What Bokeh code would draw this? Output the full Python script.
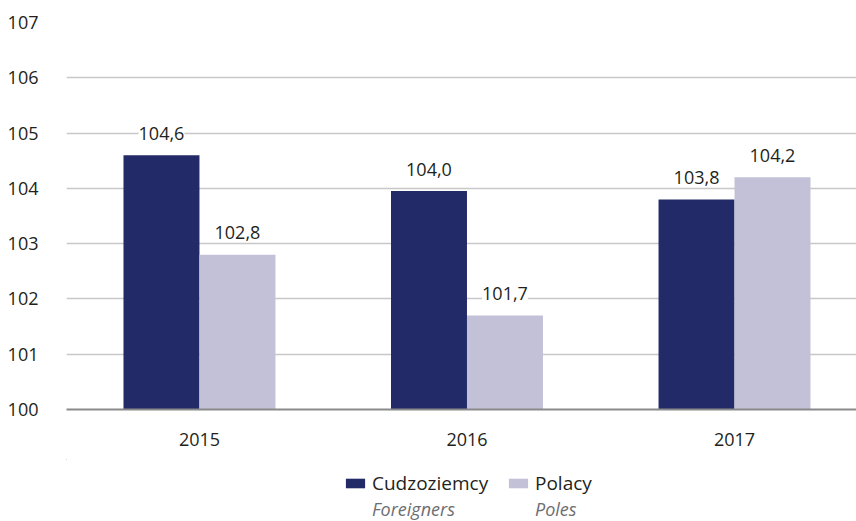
from bokeh.plotting import figure
from bokeh.layouts import column
from bokeh.models import (ColumnDataSource, LabelSet, Legend, LegendItem,
                          FixedTicker, Range1d)
from bokeh.core.properties import value
from bokeh.embed import file_html
from bokeh.resources import INLINE

years = ["2015", "2016", "2017"]
foreigners = [104.6, 103.95, 103.8]
poles = [102.8, 101.7, 104.2]
foreigners_labels = ["104,6", "104,0", "103,8"]
poles_labels = ["102,8", "101,7", "104,2"]
series_pl = ["Cudzoziemcy", "Polacy"]
series_en = ["Foreigners", "Poles"]
y_ticks = [100, 101, 102, 103, 104, 105, 106, 107]

DARK = "#232A68"
LIGHT = "#C2C1D7"
FONT = "Open Sans"
TXT = "#231F20"
SUB = "#6D6E71"

idx = list(range(len(years)))
bw = 0.284
src_f = ColumnDataSource(dict(x=[i - bw / 2 for i in idx], top=foreigners, lab=foreigners_labels))
src_p = ColumnDataSource(dict(x=[i + bw / 2 for i in idx], top=poles, lab=poles_labels))

p = figure(width=856, height=459, output_backend="svg", toolbar_location=None,
           x_range=Range1d(-0.497, 2.456), y_range=Range1d(100, 107),
           min_border_left=66, min_border_right=0, min_border_top=22, min_border_bottom=50)
p.outline_line_color = None
p.background_fill_color = "white"

p.vbar(x="x", top="top", bottom=100, width=bw, source=src_f, color=DARK, line_color=None)
p.vbar(x="x", top="top", bottom=100, width=bw, source=src_p, color=LIGHT, line_color=None)

# axes
p.xaxis.ticker = FixedTicker(ticks=idx)
p.xaxis.major_label_overrides = {i: y for i, y in zip(idx, years)}
p.xaxis.major_tick_line_color = None
p.xaxis.minor_tick_line_color = None
p.xaxis.axis_line_color = "#8A8A8A"
p.xaxis.axis_line_width = 2
p.xaxis.major_label_standoff = 17
p.xaxis.major_label_text_font = FONT
p.xaxis.major_label_text_font_size = "18px"
p.xaxis.major_label_text_color = TXT

p.yaxis.ticker = FixedTicker(ticks=y_ticks)
p.yaxis.axis_line_color = None
p.yaxis.major_tick_line_color = None
p.yaxis.minor_tick_line_color = None
p.yaxis.major_label_standoff = 22
p.yaxis.major_label_text_font = FONT
p.yaxis.major_label_text_font_size = "18px"
p.yaxis.major_label_text_color = TXT

p.xgrid.grid_line_color = None
p.ygrid.grid_line_color = "#C8C8C8"
p.ygrid.grid_line_width = 1.5

for src in (src_f, src_p):
    ls = LabelSet(x="x", y="top", text="lab", source=src, text_align="center",
                  text_baseline="middle", y_offset=22, text_font=value(FONT),
                  text_font_size=value("18px"), text_color=TXT,
                  background_fill_color="white")
    p.add_layout(ls)

# legend figure (its bars fall outside its own ranges; only the swatches show)
lf = figure(width=856, height=62, output_backend="svg", toolbar_location=None,
            x_range=Range1d(50, 51), y_range=Range1d(0, 1),
            min_border_left=0, min_border_right=0, min_border_top=0, min_border_bottom=0)
lf.axis.visible = False
lf.grid.visible = False
lf.outline_line_color = None
l1 = lf.vbar(x="x", top="top", bottom=100, width=bw, source=src_f, color=DARK, line_color=None)
l2 = lf.vbar(x="x", top="top", bottom=100, width=bw, source=src_p, color=LIGHT, line_color=None)
l0 = lf.vbar(x="x", top="top", bottom=100, width=bw, source=src_f, fill_alpha=0, line_alpha=0)

common = dict(orientation="horizontal", glyph_width=24, glyph_height=12,
              label_standoff=5, spacing=14, label_width=120, label_height=20,
              padding=0, margin=0, border_line_color=None, background_fill_alpha=0,
              label_text_font=FONT)

leg1 = Legend(items=[LegendItem(label=series_pl[0], renderers=[l1]),
                     LegendItem(label=series_pl[1], renderers=[l2])],
              location=(277, 25), label_text_color=TXT,
              label_text_font_size="19px", **common)
leg2 = Legend(items=[LegendItem(label=series_en[0], renderers=[l0]),
                     LegendItem(label=series_en[1], renderers=[l0])],
              location=(277, 0), label_text_color=SUB, label_text_font_size="18px",
              label_text_font_style="italic", **common)
lf.add_layout(leg1, "center")
lf.add_layout(leg2, "center")

layout = column(p, lf, spacing=0)
open("out.html", "w").write(file_html(layout, INLINE))
